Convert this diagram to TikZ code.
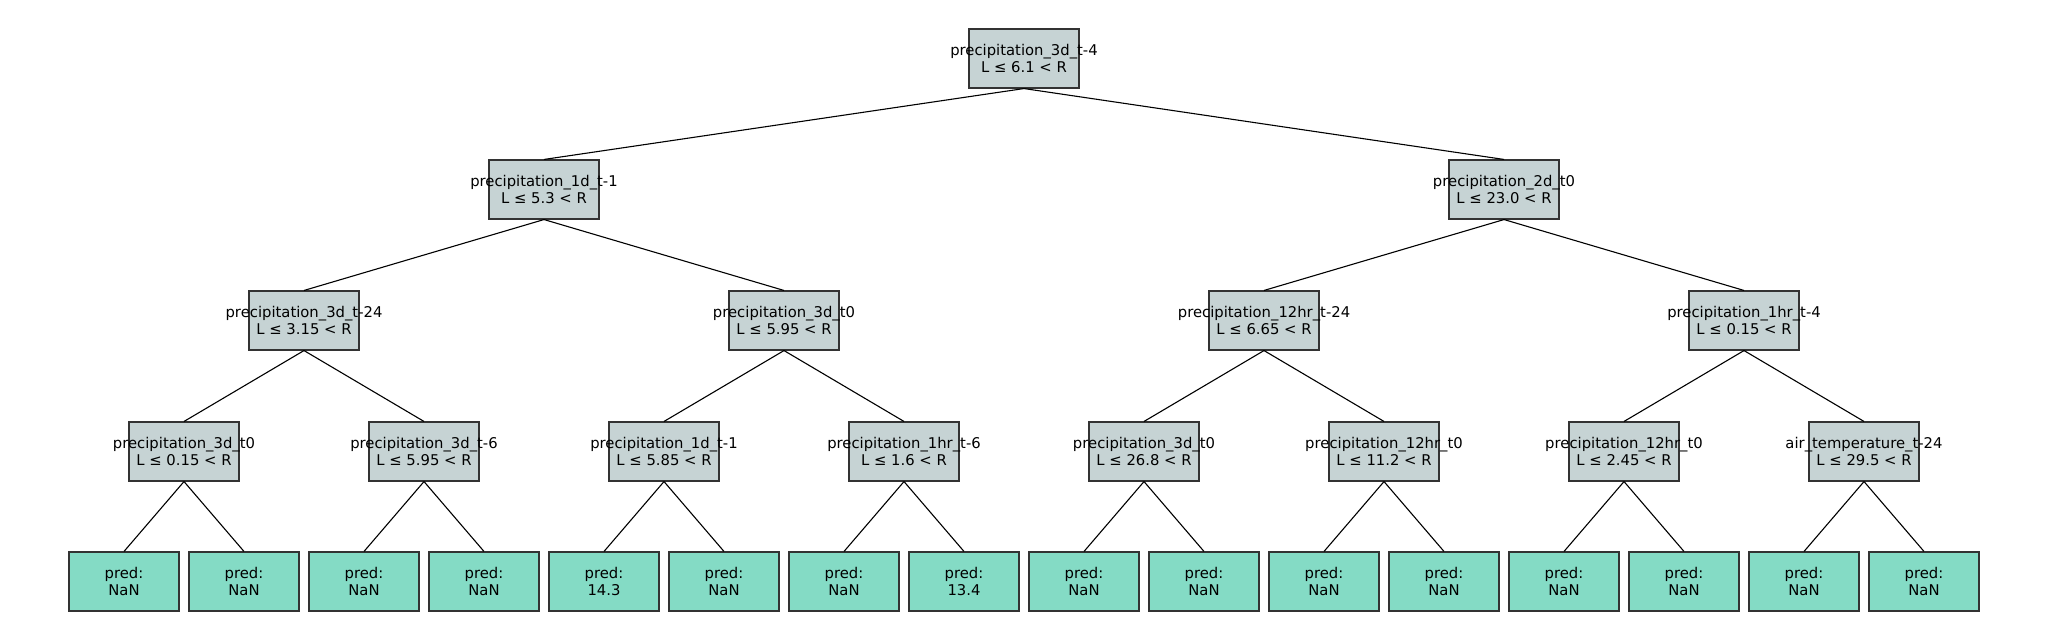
\documentclass[tikz,border=0pt]{standalone}
\usepackage{fontspec}
\setmainfont{DejaVu Sans}
\definecolor{inner}{HTML}{C6D3D4}
\definecolor{leafc}{HTML}{84DBC5}
\definecolor{edgec}{HTML}{333333}
\tikzset{
  box/.style={draw=edgec, line width=1.1pt, minimum width=110pt, minimum height=59pt, inner sep=0pt},
  split/.style={box, fill=inner},
  leaf/.style={box, fill=leafc},
  lbl/.style={align=center, inner sep=0pt, font=\fontsize{14.8}{16.5}\selectfont},
  conn/.style={draw=black, line width=1.1pt}
}
\newcommand{\bx}[5]{\node[#1] (#2) at (#3) {}; \node[lbl] (#2t) at (#2.center) {#4\\#5};}
\begin{document}
\begin{tikzpicture}[x=1pt,y=-1pt]
\useasboundingbox (0,0) rectangle (2048,640);
% root
\bx{split}{r}{1024,58.5}{precipitation\_3d\_t-4}{L ≤ 6.1 < R}
% level 1
\bx{split}{a}{544,189.5}{precipitation\_1d\_t-1}{L ≤ 5.3 < R}
\bx{split}{b}{1504,189.5}{precipitation\_2d\_t0}{L ≤ 23.0 < R}
% level 2
\bx{split}{aa}{304,320.5}{precipitation\_3d\_t-24}{L ≤ 3.15 < R}
\bx{split}{ab}{784,320.5}{precipitation\_3d\_t0}{L ≤ 5.95 < R}
\bx{split}{ba}{1264,320.5}{precipitation\_12hr\_t-24}{L ≤ 6.65 < R}
\bx{split}{bb}{1744,320.5}{precipitation\_1hr\_t-4}{L ≤ 0.15 < R}
% level 3
\bx{split}{aaa}{184,451.5}{precipitation\_3d\_t0}{L ≤ 0.15 < R}
\bx{split}{aab}{424,451.5}{precipitation\_3d\_t-6}{L ≤ 5.95 < R}
\bx{split}{aba}{664,451.5}{precipitation\_1d\_t-1}{L ≤ 5.85 < R}
\bx{split}{abb}{904,451.5}{precipitation\_1hr\_t-6}{L ≤ 1.6 < R}
\bx{split}{baa}{1144,451.5}{precipitation\_3d\_t0}{L ≤ 26.8 < R}
\bx{split}{bab}{1384,451.5}{precipitation\_12hr\_t0}{L ≤ 11.2 < R}
\bx{split}{bba}{1624,451.5}{precipitation\_12hr\_t0}{L ≤ 2.45 < R}
\bx{split}{bbb}{1864,451.5}{air\_temperature\_t-24}{L ≤ 29.5 < R}
% leaves
\bx{leaf}{l1}{124,581.5}{pred:}{NaN}
\bx{leaf}{l2}{244,581.5}{pred:}{NaN}
\bx{leaf}{l3}{364,581.5}{pred:}{NaN}
\bx{leaf}{l4}{484,581.5}{pred:}{NaN}
\bx{leaf}{l5}{604,581.5}{pred:}{14.3}
\bx{leaf}{l6}{724,581.5}{pred:}{NaN}
\bx{leaf}{l7}{844,581.5}{pred:}{NaN}
\bx{leaf}{l8}{964,581.5}{pred:}{13.4}
\bx{leaf}{l9}{1084,581.5}{pred:}{NaN}
\bx{leaf}{l10}{1204,581.5}{pred:}{NaN}
\bx{leaf}{l11}{1324,581.5}{pred:}{NaN}
\bx{leaf}{l12}{1444,581.5}{pred:}{NaN}
\bx{leaf}{l13}{1564,581.5}{pred:}{NaN}
\bx{leaf}{l14}{1684,581.5}{pred:}{NaN}
\bx{leaf}{l15}{1804,581.5}{pred:}{NaN}
\bx{leaf}{l16}{1924,581.5}{pred:}{NaN}
% connectors
\foreach \p/\c in {r/a,r/b,a/aa,a/ab,b/ba,b/bb,aa/aaa,aa/aab,ab/aba,ab/abb,ba/baa,ba/bab,bb/bba,bb/bbb,
  aaa/l1,aaa/l2,aab/l3,aab/l4,aba/l5,aba/l6,abb/l7,abb/l8,baa/l9,baa/l10,bab/l11,bab/l12,bba/l13,bba/l14,bbb/l15,bbb/l16}
  \draw[conn] (\p.south) -- (\c.north);
\end{tikzpicture}
\end{document}
